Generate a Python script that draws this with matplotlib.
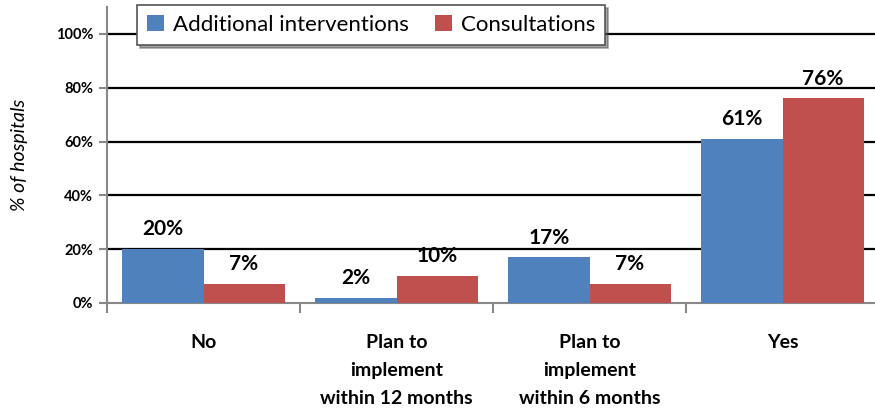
import matplotlib.pyplot as plt
import numpy as np

categories = ["No", "Plan to\nimplement\nwithin 12 months", "Plan to\nimplement\nwithin 6 months", "Yes"]
additional = [20, 2, 17, 61]
consultations = [7, 10, 7, 76]
yticks = [0, 20, 40, 60, 80, 100]

plt.rcParams['font.family'] = ['Lato', 'DejaVu Sans']

fig = plt.figure(figsize=(8.75, 4.12), dpi=100)
ax = fig.add_axes([107 / 875, 1 - 303 / 412, 772 / 875, 296 / 412])

x = np.arange(len(categories))
w = 0.42
b1 = ax.bar(x - w / 2, additional, w, color="#4f81bd", label="Additional interventions", zorder=3)
b2 = ax.bar(x + w / 2, consultations, w, color="#c0504d", label="Consultations", zorder=3)

for bars, vals in [(b1, additional), (b2, consultations)]:
    for bar, v in zip(bars, vals):
        ax.annotate(f"{v}%", (bar.get_x() + bar.get_width() / 2, v),
                    xytext=(0, 7), textcoords="offset points",
                    ha="center", va="bottom", fontsize=15, fontweight="bold", zorder=4)

ax.set_xlim(-0.5, 3.5)
ax.set_ylim(0, 110)
ax.set_yticks(yticks)
ax.set_yticklabels([f"{t}%" for t in yticks], fontsize=10.5, fontweight="bold")
for t in yticks[1:]:
    ax.axhline(t, color="black", lw=1.6, zorder=1)

ax.set_xticks(x)
ax.set_xticklabels(categories, fontsize=14, fontweight="bold", linespacing=1.8)
ax.set_xticks(np.arange(-0.5, 4, 1), minor=True)
ax.tick_params(axis="x", which="major", length=0, pad=22)
ax.tick_params(axis="x", which="minor", length=7, width=1.5, color="#888888")
ax.tick_params(axis="y", length=6, width=1.5, color="#888888", pad=4)

ax.set_ylabel("% of hospitals", fontsize=14, style="italic", labelpad=20)

for s in ["top", "right"]:
    ax.spines[s].set_visible(False)
for s in ["left", "bottom"]:
    ax.spines[s].set_color("#888888")
    ax.spines[s].set_linewidth(1.5)

leg = fig.legend(loc="upper left", bbox_to_anchor=(137 / 875, 1 - 5 / 412),
                 ncol=2, fontsize=16, frameon=True, fancybox=False, shadow=True,
                 handlelength=0.75, handleheight=0.75, handletextpad=0.4,
                 columnspacing=1.2, borderpad=0.45, borderaxespad=0)
leg.get_frame().set_edgecolor("#555555")
leg.get_frame().set_linewidth(1.2)

fig.savefig("out.png", dpi=100)
